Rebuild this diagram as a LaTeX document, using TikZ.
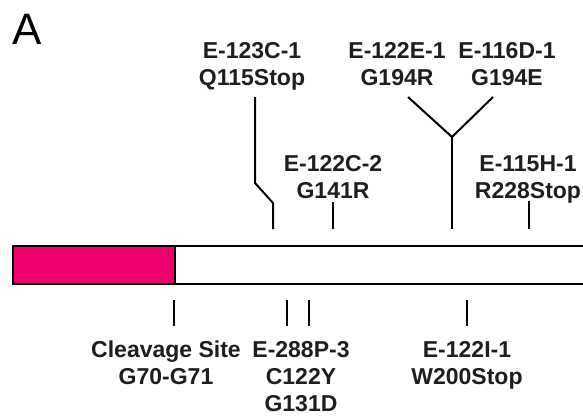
\documentclass[tikz,border=0pt]{standalone}
\usepackage{fontspec}
\setmainfont{Liberation Sans}
\definecolor{barpink}{RGB}{238,0,109}
\definecolor{inkgray}{RGB}{30,30,30}
\begin{document}
\begin{tikzpicture}[x=1pt,y=-1pt,
  lbl/.style={anchor=north,inner sep=0pt,align=center,text=inkgray,font=\fontsize{23}{27}\selectfont\bfseries},
  conn/.style={line width=2pt,line join=miter},
  barline/.style={line width=2.6pt}]
\useasboundingbox (0,0) rectangle (583,415);
\begin{scope}
\clip (0,0) rectangle (583,415);
% bar
\fill[barpink] (13,246) rectangle (175,284);
\draw[barline] (600,246) -- (13,246) -- (13,284) -- (600,284);
\draw[barline] (175,246) -- (175,284);
\end{scope}
% panel letter
\node[anchor=south west,inner sep=0pt,font=\fontsize{44}{44}\selectfont] (panel) at (12,45) {A};
% top labels
\node[lbl] (l123c) at (252,42) {E-123C-1\\Q115Stop};
\node[lbl] (l122e) at (397,42) {E-122E-1\\G194R};
\node[lbl] (l116d) at (507,42) {E-116D-1\\G194E};
\node[lbl] (l122c) at (333,155) {E-122C-2\\G141R};
\node[lbl] (l115h) at (528,155) {E-115H-1\\R228Stop};
% bottom labels
\node[lbl] (lcleave) at (166,341) {Cleavage Site\\G70-G71};
\node[lbl] (l288p) at (301,341) {E-288P-3\\C122Y\\G131D};
\node[lbl] (l122i) at (467,341) {E-122I-1\\W200Stop};
% connector coordinates
\coordinate (a1) at (255,97);
\coordinate (a2) at (255,183);
\coordinate (a3) at (273,203);
\coordinate (a4) at (273,229);
\coordinate (y1) at (408,97);
\coordinate (y2) at (493,97);
\coordinate (yj) at (452,137);
\coordinate (yb) at (452,229);
\coordinate (c1) at (333,202);
\coordinate (c2) at (333,229);
\coordinate (h1) at (529,201);
\coordinate (h2) at (529,229);
\coordinate (b1t) at (174,300);
\coordinate (b1b) at (174,326);
\coordinate (b2t) at (287,300);
\coordinate (b2b) at (287,326);
\coordinate (b3t) at (309,300);
\coordinate (b3b) at (309,326);
\coordinate (b4t) at (467,300);
\coordinate (b4b) at (467,326);
% connectors
\draw[conn] (a1) -- (a2) -- (a3) -- (a4);
\draw[conn] (y1) -- (yj) -- (y2);
\draw[conn] (yj) -- (yb);
\draw[conn] (c1) -- (c2);
\draw[conn] (h1) -- (h2);
\draw[conn] (b1t) -- (b1b);
\draw[conn] (b2t) -- (b2b);
\draw[conn] (b3t) -- (b3b);
\draw[conn] (b4t) -- (b4b);
\end{tikzpicture}
\end{document}
